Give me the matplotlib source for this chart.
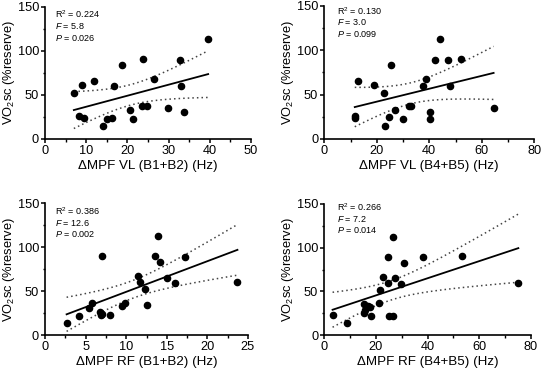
import numpy as np
import matplotlib
matplotlib.use("Agg")
import matplotlib.pyplot as plt
from matplotlib.ticker import MultipleLocator

plt.rcParams.update({
    "font.family": ["Liberation Sans", "DejaVu Sans"],
    "mathtext.fontset": "custom",
    "mathtext.rm": "Liberation Sans",
    "mathtext.it": "Liberation Sans:italic",
    "mathtext.bf": "Liberation Sans:bold",
    "axes.linewidth": 1.2,
    "xtick.direction": "out", "ytick.direction": "out",
    "xtick.major.size": 3.2, "ytick.major.size": 3.2,
    "xtick.minor.size": 1.8, "ytick.minor.size": 1.8,
    "xtick.major.width": 1.1, "ytick.major.width": 1.1,
    "xtick.minor.width": 1.0, "ytick.minor.width": 1.0,
})

# ── data ──
vl12_x = [7.0, 9.1, 8.2, 9.4, 12.0, 14.0, 15.0, 16.3, 16.8, 18.8, 20.7, 21.4,
          23.7, 23.6, 24.7, 26.4, 29.9, 32.8, 33.1, 33.7, 39.6]
vl12_y = [52.4, 60.7, 26.4, 23.4, 66.0, 15.0, 22.6, 24.0, 60.3, 83.7, 33.2, 22.6,
          90.5, 37.0, 37.3, 67.5, 35.0, 89.7, 59.6, 31.0, 113.0]

vl45_x = [11.6, 11.8, 12.8, 19.0, 22.6, 23.0, 24.5, 25.4, 26.8, 30.1, 32.4, 32.9,
          37.6, 38.9, 40.3, 40.3, 42.3, 43.9, 47.1, 47.9, 52.1, 64.5]
vl45_y = [26.3, 23.6, 65.6, 60.4, 51.8, 14.6, 24.4, 83.2, 33.0, 22.9, 37.1, 36.7,
          60.0, 67.5, 30.7, 22.9, 89.6, 112.5, 88.9, 60.0, 90.0, 34.9]

rf12_x = [2.66, 4.18, 5.41, 5.78, 6.72, 6.84, 7.05, 6.97, 7.99, 9.47, 9.80, 11.43,
          11.72, 12.34, 12.54, 13.57, 13.93, 14.18, 15.0, 16.02, 17.3, 23.7]
rf12_y = [14.4, 22.3, 31.0, 36.6, 26.0, 22.7, 24.6, 90.0, 22.7, 32.9, 37.0, 66.9,
          60.8, 52.5, 34.4, 90.3, 113.0, 83.1, 65.4, 59.3, 89.2, 60.0]

rf45_x = [3.2, 8.8, 15.2, 15.2, 15.7, 17.0, 17.7, 18.2, 21.0, 21.7, 22.7, 24.5,
          24.6, 24.9, 26.6, 26.7, 27.4, 30.7, 29.8, 38.2, 53.2, 75.1]
rf45_y = [23.2, 13.7, 35.3, 25.4, 28.5, 33.4, 32.3, 21.6, 36.5, 51.7, 66.5, 59.6,
          89.2, 21.6, 21.6, 112.0, 64.9, 82.8, 58.5, 88.9, 90.0, 59.6]

xlabels = ["ΔMPF VL (B1+B2) (Hz)", "ΔMPF VL (B4+B5) (Hz)",
           "ΔMPF RF (B1+B2) (Hz)", "ΔMPF RF (B4+B5) (Hz)"]
stats = [("0.224", "5.8", "0.026"), ("0.130", "3.0", "0.099"),
         ("0.386", "12.6", "0.002"), ("0.266", "7.2", "0.014")]
xmax = [50, 80, 25, 80]
xstep = [10, 20, 5, 20]

# axes boxes in pixels: left, top, right, bottom
boxes = [(45, 6.7, 251, 139), (324.3, 6, 534.3, 139),
         (45, 203, 248, 335.3), (324.3, 203.7, 531, 335.3)]
txt_pos = [(0.05, 0.945), (0.06, 0.965), (0.05, 0.94), (0.06, 0.975)]

T95 = {19: 2.093, 20: 2.086}
W, H = 542, 374

fig = plt.figure(figsize=(W / 100, H / 100), dpi=100)
data = [(vl12_x, vl12_y), (vl45_x, vl45_y), (rf12_x, rf12_y), (rf45_x, rf45_y)]
for i, (xs, ys) in enumerate(data):
    l, t, r, b = boxes[i]
    ax = fig.add_axes([l / W, 1 - b / H, (r - l) / W, (b - t) / H])
    x = np.array(xs); y = np.array(ys); n = len(x)
    k, c = np.polyfit(x, y, 1)
    xx = np.linspace(x.min(), x.max(), 100)
    yy = k * xx + c
    s = np.sqrt(np.sum((y - (k * x + c)) ** 2) / (n - 2))
    se = s * np.sqrt(1 / n + (xx - x.mean()) ** 2 / np.sum((x - x.mean()) ** 2))
    tv = T95.get(n - 2, 2.09)
    ax.plot(xx, yy, color="black", lw=1.3)
    ax.plot(xx, yy + tv * se, color="#444444", lw=1.1, ls=(0, (1, 2)))
    ax.plot(xx, yy - tv * se, color="#444444", lw=1.1, ls=(0, (1, 2)))
    ax.scatter(x, y, s=20, color="black", zorder=3, clip_on=False)
    ax.set_xlim(0, xmax[i]); ax.set_ylim(0, 150)
    ax.xaxis.set_major_locator(MultipleLocator(xstep[i]))
    ax.xaxis.set_minor_locator(MultipleLocator(xstep[i] / 2))
    ax.yaxis.set_major_locator(MultipleLocator(50))
    ax.yaxis.set_minor_locator(MultipleLocator(25))
    ax.tick_params(which="major", labelsize=9.2, pad=1.2)
    for side in ("top", "right"):
        ax.spines[side].set_visible(False)
    ax.set_xlabel(xlabels[i], fontsize=9.6, labelpad=2)
    ax.set_ylabel(r"VO$_\mathregular{2}$sc (%reserve)", fontsize=9.3, labelpad=0.5)
    r2, f, p = stats[i]
    tx, ty = txt_pos[i]
    for j, line in enumerate([r"R$^\mathregular{2}$ = " + r2, r"$\it{F}$ = " + f,
                              r"$\it{P}$ = " + p]):
        ax.text(tx, ty - j * 0.089, line, transform=ax.transAxes, fontsize=6.5,
                va="center", ha="left")

fig.savefig("out.png", dpi=100)
